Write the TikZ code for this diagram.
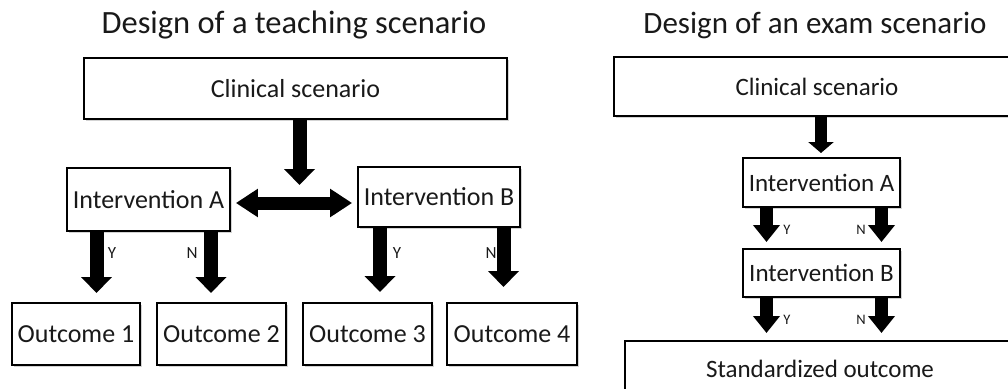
\documentclass[tikz,border=0pt]{standalone}
\usepackage{fontspec}
\setmainfont{Carlito}
\usetikzlibrary{arrows.meta,shadows}
\begin{document}
\begin{tikzpicture}[x=1pt,y=-1pt,
  box/.style={draw=black, line width=1.8pt, fill=white, inner sep=0pt,
    drop shadow={opacity=0.35, shadow xshift=2pt, shadow yshift=-2pt},
    font=\fontsize{26}{30}\selectfont, text=black!90},
  boxr/.style={box, font=\fontsize{25}{29}\selectfont},
  ttl/.style={anchor=base, inner sep=0pt, font=\fontsize{32.5}{38}\selectfont, text=black!90},
  lbl/.style={inner sep=0pt, font=\fontsize{17}{20}\selectfont, text=black!90},
  lblr/.style={inner sep=0pt, font=\fontsize{14.5}{17}\selectfont, text=black!90},
  fat/.style={line width=14pt, -{Triangle[length=16pt,width=30pt]}},
  fatboth/.style={line width=13pt, {Triangle[length=22pt,width=27pt]}-{Triangle[length=22pt,width=27pt]}},
  fatr/.style={line width=12.5pt, -{Triangle[length=17pt,width=26pt]}},
  fattop/.style={line width=12pt, -{Triangle[length=11pt,width=25pt]}},
]
\useasboundingbox (0,0) rectangle (1008,388);
\clip (0,0) rectangle (1008,388);

% ---------- Left panel ----------
\node[ttl] (t1) at (294,33) {Design of a teaching scenario};
\node[box, minimum width=423pt, minimum height=61pt] (clin1) at (295.5,88.5) {Clinical scenario};
\node[box, minimum width=163pt, minimum height=63pt] (intA) at (148.5,199.5) {Intervention A};
\node[box, minimum width=162pt, minimum height=60pt] (intB) at (439,197) {Intervention B};
\node[box, minimum width=128pt, minimum height=62pt] (o1) at (76,334) {Outcome 1};
\node[box, minimum width=129pt, minimum height=62pt] (o2) at (221.5,334) {Outcome 2};
\node[box, minimum width=129pt, minimum height=62pt] (o3) at (367.5,334) {Outcome 3};
\node[box, minimum width=130pt, minimum height=62pt] (o4) at (512,334) {Outcome 4};

\coordinate (c1) at (299.5,185);
\draw[fat] (clin1.south -| c1) -- (c1);
\coordinate (dbl) at (294,203);
\draw[fatboth, shorten <=5pt, shorten >=5pt] (intA.east |- dbl) -- (intB.west |- dbl);

\coordinate (ya) at (96.5,293);
\coordinate (na) at (211,293);
\coordinate (yb) at (380,292);
\coordinate (nb) at (503.5,287);
\draw[fat] (intA.south -| ya) -- (ya);
\draw[fat] (intA.south -| na) -- (na);
\draw[fat] (intB.south -| yb) -- (yb);
\draw[fat] (intB.south -| nb) -- (nb);

\node[lbl] (lya) at (112,253) {Y};
\node[lbl] (lna) at (192,253) {N};
\node[lbl] (lyb) at (397,253) {Y};
\node[lbl] (lnb) at (491,253) {N};

% ---------- Right panel ----------
\node[ttl, font=\fontsize{31}{36}\selectfont] (t2) at (815,33) {Design of an exam scenario};
\node[boxr, minimum width=406pt, minimum height=59pt] (clin2) at (817,86.5) {Clinical scenario};
\node[boxr, minimum width=157pt, minimum height=49pt] (ia2) at (821.5,182.5) {Intervention A};
\node[boxr, minimum width=157pt, minimum height=48pt] (ib2) at (821.5,273) {Intervention B};
\node[boxr, minimum width=390pt, minimum height=55pt] (std) at (820,368.5) {Standardized outcome};

\coordinate (c2) at (821,153);
\draw[fattop] (clin2.south -| c2) -- (c2);

\coordinate (y1) at (766.5,242);
\coordinate (n1) at (881.5,242);
\coordinate (y2) at (766.5,333);
\coordinate (n2) at (881.5,333);
\draw[fatr] (ia2.south -| y1) -- (y1);
\draw[fatr] (ia2.south -| n1) -- (n1);
\draw[fatr] (ib2.south -| y2) -- (y2);
\draw[fatr] (ib2.south -| n2) -- (n2);

\node[lblr] (ly1) at (787,230) {Y};
\node[lblr] (ln1) at (861,230) {N};
\node[lblr] (ly2) at (787,320) {Y};
\node[lblr] (ln2) at (861,320) {N};
\end{tikzpicture}
\end{document}
